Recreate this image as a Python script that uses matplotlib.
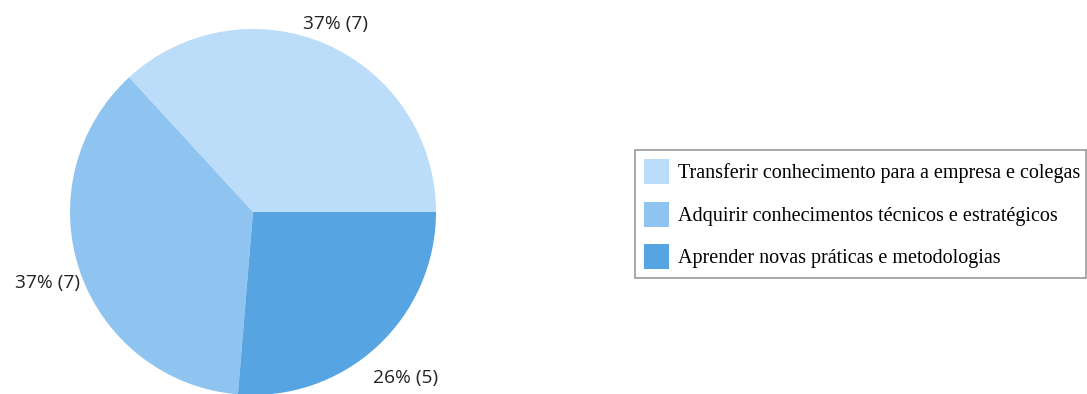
import numpy as np
import matplotlib
matplotlib.use('Agg')
from matplotlib import pyplot as plt
from matplotlib.patches import Rectangle

categories = [
    'Transferir conhecimento para a empresa e colegas',
    'Adquirir conhecimentos técnicos e estratégicos',
    'Aprender novas práticas e metodologias',
]
counts = [7, 7, 5]
colors = ['#BBDDFA', '#8FC3F0', '#57A4E2']

W, H = 1087, 394
fig = plt.figure(figsize=(W / 100, H / 100), dpi=100)
ax = fig.add_axes([0, 0, 1, 1])

total = sum(counts)
wedges, _ = ax.pie(counts, colors=colors, startangle=0, counterclock=True,
                   radius=1.0, wedgeprops=dict(linewidth=0))

# labels outside each wedge
label_dist = [1.12, 1.19, 1.23]
for w, n, d in zip(wedges, counts, label_dist):
    ang = np.deg2rad((w.theta1 + w.theta2) / 2)
    pct = 100 * n / total
    ax.text(d * np.cos(ang), d * np.sin(ang), f'{pct:.0f}% ({n})',
            ha='center', va='center', fontsize=13.8, family='Open Sans',
            color='#222222')

cx, cy, r = 253, 212, 183
ax.set_xlim(-cx / r, (W - cx) / r)
ax.set_ylim(-(H - cy) / r, cy / r)
ax.set_aspect('auto')
ax.axis('off')

# legend: handles 25px square, rows ~42.5px apart
fs = 14.5
fpx = fs * 100 / 72
hh = (25 / fpx - 0.245) / 0.65
leg = fig.legend(wedges, categories, loc='upper left',
                 bbox_to_anchor=(644 / W, 1 - 159 / H), borderaxespad=0,
                 prop={'family': 'Liberation Serif', 'size': fs},
                 handleheight=hh, handlelength=25 / fpx,
                 labelspacing=(42.5 - 25) / fpx, borderpad=0,
                 handletextpad=9 / fpx, frameon=False)

# legend frame
fig.patches.append(Rectangle((635 / W, 1 - 278 / H), (1086 - 635) / W,
                             (278 - 150) / H, transform=fig.transFigure,
                             facecolor='none', edgecolor='#9a9a9a',
                             linewidth=1.2))

fig.savefig('out.png', dpi=100)
